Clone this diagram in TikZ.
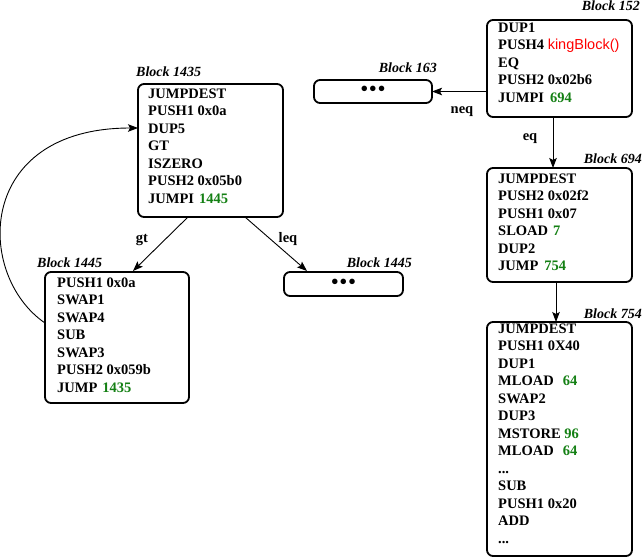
\documentclass[tikz,border=0pt]{standalone}
\usepackage{fontspec}
\setmainfont{Liberation Serif}
\newfontfamily\sansf{Liberation Sans}
\usetikzlibrary{arrows.meta,calc}
\definecolor{numgreen}{RGB}{20,128,20}
\definecolor{fnred}{RGB}{255,0,0}
\newcommand{\gn}[1]{\textcolor{numgreen}{#1}}
\tikzset{
  box/.style={draw, line width=1.8pt, rounded corners=6pt, anchor=north west, inner sep=0pt, outer sep=0pt},
  ins/.style={font=\fontsize{14.5}{17.5}\selectfont\bfseries, align=left, anchor=north west, inner sep=0pt},
  blab/.style={font=\fontsize{14}{16}\selectfont\bfseries\itshape, inner sep=0pt},
  elab/.style={font=\fontsize{14.5}{17.5}\selectfont\bfseries, inner sep=0pt, anchor=base},
  dots/.style={font=\fontsize{23}{23}\selectfont, inner sep=0pt},
  arr/.style={line width=0.9pt, -{Stealth[length=10pt,width=7.5pt,inset=2pt]}}
}
\begin{document}
\begin{tikzpicture}[x=1pt,y=-1pt]
\useasboundingbox (0,0) rectangle (642,557);
% boxes
\node[box, minimum width=145pt, minimum height=97pt] (b152) at (487,20) {};
\node[box, minimum width=118pt, minimum height=23pt] (b163) at (314,80) {};
\node[box, minimum width=145pt, minimum height=114pt] (b694) at (487,168) {};
\node[box, minimum width=145pt, minimum height=234pt] (b754) at (487,322) {};
\node[box, minimum width=145pt, minimum height=133pt] (b1435) at (138,84) {};
\node[box, minimum width=144pt, minimum height=131pt] (b1445) at (45,272) {};
\node[box, minimum width=119pt, minimum height=24pt] (b1445r) at (284,272) {};
% block labels
\node[blab, anchor=base east] (l152) at (640,10.5) {Block 152};
\node[blab, anchor=base east] (l163) at (437,72) {Block 163};
\node[blab, anchor=base east] (l694) at (642,163) {Block 694};
\node[blab, anchor=base east] (l754) at (642,318) {Block 754};
\node[blab, anchor=base west] (l1435) at (136,76) {Block 1435};
\node[blab, anchor=base west] (l1445) at (37,267) {Block 1445};
\node[blab, anchor=base east] (l1445r) at (412,267) {Block 1445};
% contents
\node[ins] (t152) at (498,19.75) {\strut DUP1\\PUSH4 {\sansf\mdseries\textcolor{fnred}{kingBlock()}}\\EQ\\PUSH2 0x02b6\\JUMPI\hspace{6pt}\gn{694}};
\node[ins] (t694) at (498,170.75) {\strut JUMPDEST\\PUSH2 0x02f2\\PUSH1 0x07\\SLOAD\hspace{5pt}\gn{7}\\DUP2\\JUMP\hspace{6pt}\gn{754}};
\node[ins] (t754) at (498,320.75) {\strut JUMPDEST\\PUSH1 0X40\\DUP1\\MLOAD\hspace{9pt}\gn{64}\\SWAP2\\DUP3\\MSTORE \gn{96}\\MLOAD\hspace{9pt}\gn{64}\\...\\SUB\\PUSH1 0x20\\ADD\\...};
\node[ins] (t1435) at (148,85.75) {\strut JUMPDEST\\PUSH1 0x0a\\DUP5\\GT\\ISZERO\\PUSH2 0x05b0\\JUMPI\hspace{5pt}\gn{1445}};
\node[ins] (t1445) at (57,274.75) {\strut PUSH1 0x0a\\SWAP1\\SWAP4\\SUB\\SWAP3\\PUSH2 0x059b\\JUMP\hspace{5pt}\gn{1435}};
\node[dots] (d163) at (b163.center) {\textbullet\kern0.5pt\textbullet\kern0.5pt\textbullet};
\node[dots] (d1445r) at (b1445r.center) {\textbullet\kern0.5pt\textbullet\kern0.5pt\textbullet};
% edge labels
\node[elab] (lneq) at (462,113) {neq};
\node[elab] (leq) at (530,140) {eq};
\node[elab] (lgt) at (142,242) {gt};
\node[elab] (lleq) at (288,242) {leq};
% connectors
\draw[arr] (b152.west |- b163.east) -- (b163.east);
\draw[arr] ([xshift=-6.5pt]b152.south) -- ([xshift=-6.5pt]b694.north);
\draw[arr] ([xshift=-3.5pt]b694.south) -- ([xshift=-3.5pt]b754.north);
\draw[arr] ([xshift=-22.5pt]b1435.south) -- ([xshift=16pt,yshift=1pt]b1445.north);
\draw[arr] ([xshift=34.5pt]b1435.south) -- ([xshift=-36.5pt,yshift=1pt]b1445r.north);
\draw[arr] ([yshift=14.5pt]b1445.west) .. controls (-25,275) and (-25,128) .. ([yshift=22.5pt]b1435.west);
\end{tikzpicture}
\end{document}
